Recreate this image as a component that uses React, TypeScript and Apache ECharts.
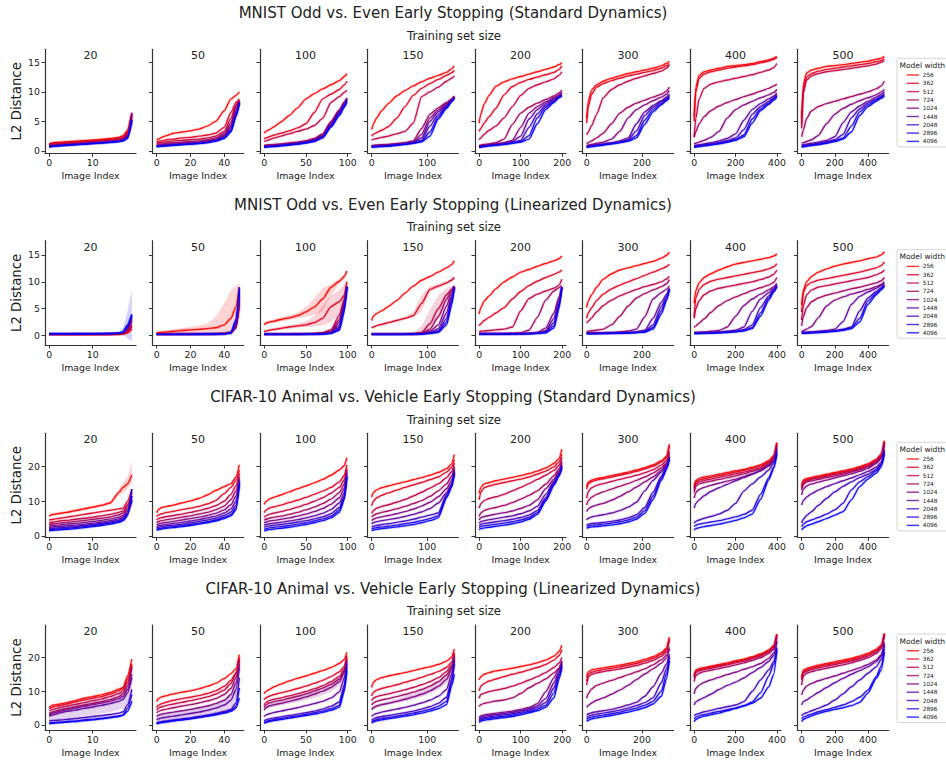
import React, { useEffect, useRef } from 'react';
import * as echarts from 'echarts';

// ---------- labels ----------
const ROW_TITLES = [
  'MNIST Odd vs. Even Early Stopping (Standard Dynamics)',
  'MNIST Odd vs. Even Early Stopping (Linearized Dynamics)',
  'CIFAR-10 Animal vs. Vehicle Early Stopping (Standard Dynamics)',
  'CIFAR-10 Animal vs. Vehicle Early Stopping (Linearized Dynamics)',
];
const SUBTITLE = 'Training set size';
const X_LABEL = 'Image Index';
const Y_LABEL = 'L2 Distance';
const LEGEND_TITLE = 'Model width';
const WIDTHS = ['256', '362', '512', '724', '1024', '1448', '2048', '2896', '4096'];
const SIZES = [20, 50, 100, 150, 200, 300, 400, 500];
const X_TICKS = [[0, 10], [0, 20, 40], [0, 50, 100], [0, 100], [0, 100, 200], [0, 200], [0, 200, 400], [0, 200, 400]];
const Y_TICKS_MNIST = [0, 5, 10, 15];
const Y_TICKS_CIFAR = [0, 10, 20];

// ---------- sampled image indices per training-set size ----------
const X20 = [0, 1, 2, 3, 4, 6, 8, 10, 12, 14, 16, 17, 18, 19];
const X50 = [0, 1, 3, 6, 10, 15, 20, 25, 30, 35, 40, 44, 47, 49];
const X100 = [0, 2, 6, 12, 20, 30, 40, 50, 60, 70, 80, 90, 96, 99];
const X150 = [0, 3, 9, 18, 30, 45, 60, 75, 90, 105, 120, 135, 144, 149];
const X200 = [0, 4, 12, 24, 40, 60, 80, 100, 120, 140, 160, 180, 192, 199];
const X300 = [0, 6, 18, 36, 60, 90, 120, 150, 180, 210, 240, 270, 288, 299];
const X400 = [0, 8, 24, 48, 80, 120, 160, 200, 240, 280, 320, 360, 384, 399];
const X500 = [0, 10, 30, 60, 100, 150, 200, 250, 300, 350, 400, 450, 480, 499];
const XS = [X20, X50, X100, X150, X200, X300, X400, X500];

// ---------- MNIST standard ----------
const MS20 = [
  [1.2, 1.4, 1.45, 1.5, 1.55, 1.65, 1.75, 1.85, 1.95, 2.1, 2.3, 2.6, 3.5, 6.3],
  [1.1, 1.3, 1.35, 1.4, 1.45, 1.55, 1.65, 1.75, 1.85, 1.95, 2.15, 2.4, 3.2, 6.0],
  [1.0, 1.15, 1.2, 1.25, 1.3, 1.4, 1.5, 1.6, 1.7, 1.8, 2.0, 2.2, 3.0, 6.5],
  [0.9, 1.0, 1.05, 1.1, 1.15, 1.25, 1.35, 1.45, 1.55, 1.65, 1.85, 2.05, 2.8, 6.4],
  [0.85, 0.95, 1.0, 1.05, 1.1, 1.2, 1.3, 1.4, 1.5, 1.6, 1.75, 1.95, 2.6, 6.0],
  [0.8, 0.9, 0.95, 1.0, 1.05, 1.15, 1.25, 1.35, 1.45, 1.55, 1.7, 1.85, 2.4, 5.6],
  [0.75, 0.85, 0.9, 0.95, 1.0, 1.1, 1.2, 1.3, 1.4, 1.5, 1.65, 1.8, 2.3, 5.2],
  [0.72, 0.82, 0.87, 0.92, 0.97, 1.07, 1.17, 1.27, 1.37, 1.47, 1.6, 1.75, 2.2, 5.0],
  [0.7, 0.8, 0.85, 0.9, 0.95, 1.05, 1.15, 1.25, 1.35, 1.45, 1.58, 1.72, 2.1, 5.2],
];
const MS50 = [
  [1.8, 2.0, 2.3, 2.6, 3.0, 3.2, 3.4, 3.7, 4.2, 5.0, 6.8, 8.8, 9.4, 10.0],
  [1.5, 1.6, 1.7, 1.9, 2.0, 2.2, 2.3, 2.5, 2.7, 3.0, 4.0, 6.5, 8.2, 8.8],
  [1.3, 1.35, 1.45, 1.55, 1.7, 1.8, 1.9, 2.0, 2.2, 2.5, 3.3, 5.5, 7.8, 8.6],
  [1.1, 1.15, 1.2, 1.3, 1.4, 1.5, 1.6, 1.7, 1.9, 2.2, 3.0, 4.8, 7.5, 8.5],
  [0.9, 0.95, 1.0, 1.1, 1.2, 1.3, 1.4, 1.5, 1.7, 2.0, 2.7, 4.3, 7.0, 8.4],
  [0.85, 0.9, 0.95, 1.0, 1.1, 1.2, 1.3, 1.4, 1.55, 1.85, 2.5, 4.0, 6.5, 8.3],
  [0.8, 0.85, 0.9, 0.95, 1.05, 1.15, 1.25, 1.35, 1.5, 1.75, 2.3, 3.6, 6.2, 8.2],
  [0.75, 0.8, 0.85, 0.9, 1.0, 1.1, 1.2, 1.3, 1.45, 1.7, 2.2, 3.4, 6.0, 8.1],
  [0.7, 0.75, 0.8, 0.85, 0.95, 1.05, 1.15, 1.25, 1.4, 1.65, 2.1, 3.2, 5.8, 8.0],
];
const MS100 = [
  [3.0, 3.3, 3.6, 4.1, 4.9, 6.0, 7.3, 8.8, 9.7, 10.5, 11.2, 11.9, 12.6, 13.1],
  [2.0, 2.2, 2.4, 2.7, 3.0, 3.4, 3.9, 4.6, 6.5, 8.8, 9.6, 10.4, 11.2, 11.8],
  [1.6, 1.7, 1.9, 2.2, 2.5, 2.9, 3.3, 3.7, 4.3, 5.5, 8.2, 9.2, 9.9, 10.3],
  [0.9, 1.0, 1.05, 1.1, 1.2, 1.35, 1.5, 1.75, 2.1, 2.9, 5.0, 7.0, 8.3, 9.0],
  [0.8, 0.85, 0.9, 0.95, 1.05, 1.2, 1.35, 1.6, 1.95, 2.7, 4.8, 6.8, 8.1, 8.9],
  [0.75, 0.8, 0.85, 0.9, 1.0, 1.15, 1.3, 1.5, 1.85, 2.5, 4.6, 6.6, 8.0, 8.8],
  [0.7, 0.75, 0.8, 0.85, 0.95, 1.1, 1.25, 1.45, 1.75, 2.4, 4.4, 6.4, 7.8, 8.7],
  [0.65, 0.7, 0.75, 0.8, 0.9, 1.05, 1.2, 1.4, 1.7, 2.3, 4.2, 6.2, 7.6, 8.5],
  [0.6, 0.65, 0.7, 0.75, 0.85, 1.0, 1.15, 1.35, 1.6, 2.2, 4.0, 6.0, 7.4, 8.3],
];
const MS150 = [
  [3.6, 4.5, 5.6, 6.8, 8.0, 9.3, 10.2, 11.0, 11.7, 12.3, 12.8, 13.3, 13.9, 14.4],
  [2.5, 2.8, 3.1, 3.5, 4.1, 5.5, 7.5, 9.4, 10.6, 11.4, 12.1, 12.8, 13.2, 13.6],
  [1.8, 1.95, 2.1, 2.3, 2.5, 2.9, 3.3, 4.7, 9.2, 10.0, 10.8, 11.8, 12.3, 12.7],
  [0.9, 0.95, 1.0, 1.05, 1.1, 1.25, 1.4, 1.7, 3.8, 6.2, 7.3, 8.2, 8.8, 9.3],
  [0.8, 0.85, 0.9, 0.95, 1.0, 1.15, 1.3, 1.55, 2.8, 5.6, 6.9, 8.0, 8.7, 9.2],
  [0.75, 0.8, 0.85, 0.9, 0.95, 1.1, 1.25, 1.45, 2.2, 5.0, 6.6, 7.8, 8.6, 9.1],
  [0.7, 0.75, 0.8, 0.85, 0.9, 1.05, 1.2, 1.4, 1.8, 4.2, 6.2, 7.6, 8.5, 9.0],
  [0.65, 0.7, 0.75, 0.8, 0.85, 1.0, 1.15, 1.35, 1.65, 3.2, 5.8, 7.4, 8.4, 9.0],
  [0.6, 0.65, 0.7, 0.75, 0.8, 0.95, 1.1, 1.3, 1.55, 2.5, 5.4, 7.2, 8.3, 9.0],
];
const MS200 = [
  [4.7, 6.2, 7.9, 9.4, 10.9, 11.7, 12.2, 12.6, 13.0, 13.4, 13.8, 14.2, 14.6, 14.9],
  [3.3, 3.8, 4.7, 5.8, 7.2, 9.5, 10.9, 11.6, 12.1, 12.5, 12.9, 13.3, 13.8, 14.4],
  [1.9, 2.2, 2.8, 3.5, 4.2, 5.6, 7.5, 9.4, 10.6, 11.2, 11.7, 12.2, 12.8, 13.4],
  [0.9, 1.0, 1.1, 1.2, 1.4, 2.0, 4.5, 6.4, 7.4, 8.1, 8.7, 9.3, 9.8, 10.3],
  [0.8, 0.85, 0.95, 1.05, 1.2, 1.4, 1.8, 4.0, 6.4, 7.5, 8.3, 9.0, 9.5, 9.9],
  [0.75, 0.8, 0.9, 1.0, 1.1, 1.3, 1.6, 2.5, 5.4, 7.0, 8.0, 8.8, 9.3, 9.7],
  [0.7, 0.75, 0.85, 0.95, 1.05, 1.2, 1.45, 1.8, 4.0, 6.3, 7.7, 8.6, 9.2, 9.5],
  [0.65, 0.7, 0.8, 0.9, 1.0, 1.15, 1.35, 1.6, 2.6, 5.6, 7.4, 8.4, 9.1, 9.4],
  [0.6, 0.65, 0.75, 0.85, 0.95, 1.1, 1.3, 1.5, 2.0, 4.6, 7.0, 8.2, 9.0, 9.3],
];
const MS300 = [
  [5.5, 8.5, 10.3, 11.2, 11.8, 12.3, 12.7, 13.1, 13.4, 13.7, 14.0, 14.4, 14.8, 15.2],
  [4.7, 7.5, 9.6, 10.8, 11.4, 11.9, 12.3, 12.7, 13.0, 13.3, 13.6, 14.0, 14.4, 14.8],
  [2.7, 3.2, 4.3, 6.2, 9.0, 10.4, 11.2, 11.8, 12.3, 12.7, 13.1, 13.5, 14.0, 14.5],
  [1.2, 1.4, 1.7, 2.2, 3.0, 4.6, 6.4, 7.4, 8.1, 8.6, 9.1, 9.6, 10.1, 10.8],
  [0.9, 1.0, 1.1, 1.3, 1.5, 2.0, 3.3, 5.6, 7.0, 7.8, 8.5, 9.1, 9.6, 10.2],
  [0.8, 0.85, 0.95, 1.05, 1.2, 1.4, 1.7, 2.2, 4.6, 6.6, 7.7, 8.5, 9.1, 9.6],
  [0.7, 0.75, 0.85, 0.95, 1.1, 1.3, 1.5, 1.9, 3.4, 6.0, 7.4, 8.3, 8.9, 9.4],
  [0.65, 0.7, 0.8, 0.9, 1.05, 1.25, 1.45, 1.75, 2.6, 5.2, 7.0, 8.0, 8.7, 9.2],
  [0.6, 0.65, 0.75, 0.85, 1.0, 1.2, 1.4, 1.65, 2.2, 4.5, 6.6, 7.8, 8.5, 9.0],
];
const MS400 = [
  [5.8, 10.8, 12.8, 13.4, 13.7, 14.0, 14.3, 14.45, 14.6, 14.8, 15.1, 15.4, 15.7, 16.0],
  [5.0, 10.0, 12.3, 13.0, 13.4, 13.7, 14.0, 14.2, 14.4, 14.6, 14.9, 15.2, 15.5, 15.8],
  [2.4, 5.5, 8.8, 10.6, 11.3, 11.7, 12.0, 12.3, 12.6, 12.9, 13.3, 13.7, 14.1, 14.8],
  [2.3, 3.2, 4.6, 5.8, 6.8, 7.6, 8.2, 8.7, 9.2, 9.6, 10.1, 10.6, 11.0, 11.3],
  [1.2, 1.3, 1.5, 1.8, 2.3, 3.3, 5.6, 7.0, 7.8, 8.4, 9.0, 9.5, 9.9, 10.4],
  [0.9, 0.95, 1.05, 1.2, 1.4, 1.7, 2.1, 2.9, 5.2, 7.0, 8.0, 8.8, 9.3, 9.8],
  [0.8, 0.85, 0.95, 1.05, 1.2, 1.45, 1.75, 2.2, 3.6, 6.2, 7.5, 8.4, 9.0, 9.5],
  [0.7, 0.75, 0.85, 0.95, 1.1, 1.3, 1.6, 1.95, 2.7, 5.4, 7.1, 8.1, 8.8, 9.3],
  [0.6, 0.65, 0.75, 0.85, 1.0, 1.2, 1.45, 1.8, 2.4, 4.7, 6.8, 7.9, 8.6, 9.1],
];
const MS500 = [
  [5.5, 11.3, 13.2, 13.7, 14.0, 14.3, 14.45, 14.6, 14.8, 15.0, 15.2, 15.5, 15.7, 16.0],
  [4.5, 10.5, 12.5, 13.1, 13.5, 13.8, 14.0, 14.2, 14.4, 14.6, 14.8, 15.1, 15.3, 15.6],
  [3.8, 9.8, 12.0, 12.7, 13.1, 13.4, 13.6, 13.8, 14.0, 14.2, 14.4, 14.7, 15.0, 15.3],
  [2.4, 3.5, 5.5, 6.8, 7.5, 8.0, 8.4, 8.8, 9.2, 9.6, 10.0, 10.5, 11.0, 11.8],
  [1.3, 1.4, 1.6, 1.9, 2.6, 4.6, 6.2, 7.2, 7.9, 8.5, 9.0, 9.5, 10.0, 10.4],
  [1.0, 1.05, 1.15, 1.3, 1.5, 1.8, 2.4, 4.8, 6.6, 7.6, 8.4, 9.1, 9.6, 10.0],
  [0.85, 0.9, 1.0, 1.1, 1.3, 1.55, 1.9, 2.8, 5.6, 7.1, 8.1, 8.8, 9.3, 9.7],
  [0.75, 0.8, 0.9, 1.0, 1.15, 1.4, 1.7, 2.2, 4.2, 6.6, 7.8, 8.6, 9.1, 9.5],
  [0.65, 0.7, 0.8, 0.9, 1.05, 1.3, 1.6, 2.0, 3.2, 6.0, 7.5, 8.4, 8.9, 9.3],
];

// ---------- MNIST linearized ----------
const ML20 = [
  [0.2, 0.2, 0.2, 0.2, 0.2, 0.2, 0.2, 0.2, 0.2, 0.21, 0.22, 0.3, 0.5, 1.2],
  [0.22, 0.22, 0.22, 0.22, 0.22, 0.22, 0.22, 0.23, 0.23, 0.24, 0.26, 0.35, 0.6, 1.6],
  [0.24, 0.24, 0.24, 0.24, 0.24, 0.24, 0.25, 0.25, 0.26, 0.27, 0.29, 0.4, 0.8, 2.0],
  [0.26, 0.26, 0.26, 0.26, 0.26, 0.27, 0.27, 0.28, 0.29, 0.3, 0.32, 0.45, 1.0, 2.6],
  [0.28, 0.28, 0.28, 0.28, 0.28, 0.29, 0.29, 0.3, 0.31, 0.32, 0.35, 0.5, 1.2, 3.0],
  [0.3, 0.3, 0.3, 0.3, 0.3, 0.31, 0.31, 0.32, 0.33, 0.34, 0.38, 0.55, 1.4, 3.3],
  [0.32, 0.32, 0.32, 0.32, 0.32, 0.33, 0.33, 0.34, 0.35, 0.36, 0.4, 0.6, 1.6, 3.6],
  [0.33, 0.33, 0.33, 0.33, 0.33, 0.34, 0.34, 0.35, 0.36, 0.38, 0.42, 0.65, 1.8, 3.8],
  [0.34, 0.34, 0.34, 0.34, 0.34, 0.35, 0.35, 0.36, 0.37, 0.39, 0.44, 0.7, 2.0, 4.0],
];
const ML50 = [
  [0.5, 0.55, 0.6, 0.7, 0.8, 0.95, 1.05, 1.15, 1.3, 1.45, 2.0, 3.2, 5.4, 9.0],
  [0.3, 0.3, 0.3, 0.3, 0.3, 0.3, 0.3, 0.32, 0.34, 0.36, 0.4, 0.7, 1.6, 5.5],
  [0.28, 0.28, 0.28, 0.28, 0.28, 0.29, 0.29, 0.3, 0.32, 0.34, 0.38, 0.65, 1.5, 6.0],
  [0.27, 0.27, 0.27, 0.27, 0.27, 0.28, 0.28, 0.29, 0.31, 0.33, 0.37, 0.6, 1.4, 6.5],
  [0.26, 0.26, 0.26, 0.26, 0.26, 0.27, 0.27, 0.28, 0.3, 0.32, 0.36, 0.55, 1.5, 7.0],
  [0.25, 0.25, 0.25, 0.25, 0.25, 0.26, 0.26, 0.27, 0.29, 0.31, 0.35, 0.5, 1.8, 7.5],
  [0.24, 0.24, 0.24, 0.24, 0.24, 0.25, 0.25, 0.26, 0.28, 0.3, 0.34, 0.5, 2.2, 8.0],
  [0.23, 0.23, 0.23, 0.23, 0.23, 0.24, 0.24, 0.25, 0.27, 0.29, 0.33, 0.5, 2.6, 8.5],
  [0.22, 0.22, 0.22, 0.22, 0.22, 0.23, 0.23, 0.24, 0.26, 0.28, 0.32, 0.5, 3.0, 9.0],
];
const ML100 = [
  [2.0, 2.3, 2.5, 2.7, 3.0, 3.3, 3.7, 4.4, 5.3, 6.8, 9.0, 10.1, 11.0, 12.0],
  [0.75, 0.85, 1.0, 1.15, 1.35, 1.6, 1.8, 2.0, 2.4, 3.2, 5.4, 6.3, 7.5, 10.0],
  [0.3, 0.3, 0.3, 0.3, 0.3, 0.3, 0.32, 0.35, 0.4, 0.55, 1.1, 3.8, 6.8, 9.2],
  [0.28, 0.28, 0.28, 0.28, 0.28, 0.28, 0.3, 0.32, 0.36, 0.45, 0.8, 3.0, 6.5, 9.2],
  [0.26, 0.26, 0.26, 0.26, 0.26, 0.26, 0.28, 0.3, 0.33, 0.4, 0.7, 2.4, 6.2, 9.1],
  [0.25, 0.25, 0.25, 0.25, 0.25, 0.25, 0.26, 0.28, 0.3, 0.35, 0.6, 1.9, 5.8, 9.0],
  [0.24, 0.24, 0.24, 0.24, 0.24, 0.24, 0.25, 0.27, 0.29, 0.33, 0.5, 1.5, 5.4, 9.0],
  [0.23, 0.23, 0.23, 0.23, 0.23, 0.23, 0.24, 0.26, 0.28, 0.3, 0.45, 1.2, 5.0, 9.0],
  [0.22, 0.22, 0.22, 0.22, 0.22, 0.22, 0.23, 0.25, 0.27, 0.3, 0.4, 1.0, 4.5, 9.0],
];
const ML150 = [
  [2.8, 3.6, 4.1, 4.6, 5.4, 6.5, 7.9, 9.2, 10.3, 11.0, 11.8, 12.6, 13.2, 13.9],
  [1.4, 1.6, 1.85, 2.1, 2.4, 2.8, 3.2, 3.7, 6.0, 8.6, 9.2, 9.8, 10.3, 10.8],
  [0.3, 0.3, 0.3, 0.3, 0.3, 0.3, 0.3, 0.35, 0.6, 2.2, 5.0, 7.6, 8.6, 9.2],
  [0.28, 0.28, 0.28, 0.28, 0.28, 0.28, 0.3, 0.33, 0.45, 1.2, 3.5, 6.8, 8.4, 9.2],
  [0.26, 0.26, 0.26, 0.26, 0.26, 0.26, 0.28, 0.3, 0.4, 0.8, 2.0, 5.5, 8.0, 9.1],
  [0.25, 0.25, 0.25, 0.25, 0.25, 0.25, 0.27, 0.29, 0.35, 0.6, 1.3, 4.2, 7.4, 9.0],
  [0.24, 0.24, 0.24, 0.24, 0.24, 0.24, 0.26, 0.28, 0.33, 0.5, 0.9, 3.2, 6.8, 9.0],
  [0.23, 0.23, 0.23, 0.23, 0.23, 0.23, 0.25, 0.27, 0.31, 0.45, 0.7, 2.5, 6.2, 9.0],
  [0.22, 0.22, 0.22, 0.22, 0.22, 0.22, 0.24, 0.26, 0.3, 0.4, 0.6, 2.0, 5.6, 9.0],
];
const ML200 = [
  [4.0, 5.2, 6.4, 7.4, 8.7, 10.0, 10.9, 11.8, 12.3, 12.9, 13.4, 13.9, 14.3, 14.8],
  [1.8, 2.2, 2.8, 3.4, 4.2, 5.2, 6.8, 8.2, 9.3, 10.1, 10.8, 11.4, 11.8, 12.2],
  [0.75, 0.8, 0.85, 0.95, 1.05, 1.2, 1.6, 4.6, 6.9, 7.7, 8.3, 8.8, 9.4, 10.5],
  [0.4, 0.4, 0.4, 0.4, 0.4, 0.42, 0.45, 0.55, 1.0, 3.4, 6.6, 8.3, 8.9, 9.3],
  [0.35, 0.35, 0.35, 0.35, 0.35, 0.35, 0.36, 0.38, 0.42, 0.6, 1.4, 4.2, 7.2, 9.0],
  [0.33, 0.33, 0.33, 0.33, 0.33, 0.33, 0.34, 0.36, 0.4, 0.5, 0.9, 3.2, 6.6, 9.0],
  [0.31, 0.31, 0.31, 0.31, 0.31, 0.31, 0.32, 0.34, 0.38, 0.45, 0.7, 2.4, 6.0, 9.0],
  [0.3, 0.3, 0.3, 0.3, 0.3, 0.3, 0.31, 0.33, 0.36, 0.42, 0.6, 1.8, 5.5, 9.0],
  [0.28, 0.28, 0.28, 0.28, 0.28, 0.28, 0.3, 0.32, 0.35, 0.4, 0.5, 1.4, 5.0, 9.0],
];
const ML300 = [
  [5.2, 6.5, 7.6, 9.0, 10.5, 11.5, 12.2, 12.6, 13.0, 13.4, 13.8, 14.4, 14.9, 15.5],
  [3.2, 4.2, 5.2, 6.5, 7.7, 8.7, 9.4, 10.0, 10.6, 11.2, 11.8, 12.4, 12.8, 13.3],
  [2.3, 2.7, 3.3, 4.4, 5.6, 6.6, 7.4, 8.0, 8.6, 9.1, 9.5, 10.0, 10.5, 11.0],
  [0.75, 0.8, 0.9, 1.0, 1.2, 2.0, 3.6, 5.5, 7.0, 7.8, 8.5, 9.1, 9.6, 10.4],
  [0.5, 0.5, 0.5, 0.52, 0.55, 0.6, 0.7, 0.85, 1.2, 3.5, 6.8, 8.0, 8.6, 9.2],
  [0.45, 0.45, 0.45, 0.46, 0.48, 0.5, 0.55, 0.6, 0.7, 1.0, 3.2, 6.2, 7.6, 8.8],
  [0.4, 0.4, 0.4, 0.41, 0.43, 0.45, 0.5, 0.55, 0.62, 0.8, 2.0, 5.4, 7.2, 8.7],
  [0.37, 0.37, 0.37, 0.38, 0.4, 0.42, 0.46, 0.5, 0.57, 0.7, 1.5, 4.6, 6.8, 8.6],
  [0.35, 0.35, 0.35, 0.36, 0.38, 0.4, 0.44, 0.48, 0.54, 0.65, 1.2, 4.0, 6.4, 8.5],
];
const ML400 = [
  [6.0, 8.4, 9.8, 10.8, 11.5, 12.2, 12.8, 13.3, 13.6, 13.9, 14.2, 14.5, 14.8, 15.2],
  [3.5, 7.0, 8.6, 9.5, 10.1, 10.5, 10.8, 11.1, 11.4, 11.7, 12.0, 12.4, 12.8, 13.4],
  [3.2, 5.0, 6.5, 7.6, 8.3, 8.8, 9.1, 9.4, 9.7, 10.0, 10.4, 10.9, 11.4, 12.2],
  [1.5, 1.8, 2.3, 3.1, 4.3, 5.6, 6.5, 7.2, 7.8, 8.4, 8.9, 9.4, 9.9, 10.8],
  [0.6, 0.62, 0.65, 0.7, 0.8, 0.95, 1.6, 3.6, 5.6, 6.8, 7.7, 8.5, 9.1, 9.7],
  [0.5, 0.5, 0.52, 0.55, 0.6, 0.68, 0.8, 1.0, 1.6, 4.5, 6.8, 8.0, 8.8, 9.5],
  [0.45, 0.45, 0.47, 0.5, 0.55, 0.6, 0.7, 0.85, 1.1, 2.0, 5.2, 7.4, 8.5, 9.3],
  [0.4, 0.4, 0.42, 0.45, 0.5, 0.55, 0.63, 0.75, 0.95, 1.5, 4.2, 7.0, 8.3, 9.2],
  [0.37, 0.37, 0.39, 0.42, 0.46, 0.5, 0.58, 0.7, 0.88, 1.3, 3.6, 6.6, 8.1, 9.1],
];
const ML500 = [
  [5.7, 8.5, 10.0, 11.0, 11.8, 12.4, 12.9, 13.3, 13.6, 13.9, 14.3, 14.6, 15.0, 15.6],
  [4.4, 8.0, 9.3, 9.9, 10.3, 10.6, 10.9, 11.2, 11.5, 11.8, 12.2, 12.6, 13.0, 13.7],
  [2.9, 5.5, 7.6, 8.5, 9.0, 9.3, 9.6, 9.9, 10.2, 10.5, 10.8, 11.3, 11.7, 12.2],
  [1.8, 3.5, 5.2, 6.3, 7.0, 7.5, 7.9, 8.3, 8.7, 9.0, 9.4, 9.8, 10.2, 10.8],
  [0.75, 0.9, 1.2, 1.7, 3.3, 5.5, 6.6, 7.2, 7.7, 8.1, 8.6, 9.1, 9.5, 10.0],
  [0.6, 0.62, 0.65, 0.7, 0.8, 0.95, 1.2, 2.6, 5.8, 7.3, 8.1, 8.8, 9.3, 9.7],
  [0.5, 0.52, 0.55, 0.6, 0.68, 0.8, 0.95, 1.2, 1.6, 4.6, 7.0, 8.2, 8.9, 9.5],
  [0.45, 0.47, 0.5, 0.55, 0.62, 0.72, 0.85, 1.05, 1.4, 3.2, 6.4, 7.9, 8.7, 9.3],
  [0.4, 0.42, 0.45, 0.5, 0.57, 0.67, 0.8, 0.98, 1.3, 2.5, 5.8, 7.6, 8.5, 9.2],
];

// ---------- CIFAR-10 standard ----------
const CS20 = [
  [5.8, 6.2, 6.4, 6.6, 6.8, 7.3, 7.8, 8.3, 8.8, 9.5, 12.5, 14.0, 15.0, 17.6],
  [4.6, 4.8, 5.0, 5.2, 5.4, 5.8, 6.2, 6.6, 7.0, 7.4, 7.8, 8.0, 10.0, 13.5],
  [3.8, 4.0, 4.2, 4.4, 4.5, 4.8, 5.1, 5.4, 5.8, 6.2, 6.8, 7.2, 9.0, 12.5],
  [3.3, 3.5, 3.6, 3.8, 3.9, 4.2, 4.5, 4.8, 5.1, 5.5, 6.1, 6.6, 8.3, 11.5],
  [2.9, 3.0, 3.1, 3.3, 3.4, 3.6, 3.9, 4.2, 4.5, 4.9, 5.4, 5.9, 7.6, 10.5],
  [2.5, 2.6, 2.7, 2.8, 2.9, 3.1, 3.4, 3.7, 4.0, 4.4, 4.9, 5.4, 7.0, 10.5],
  [2.1, 2.2, 2.3, 2.4, 2.5, 2.7, 3.0, 3.3, 3.6, 4.0, 4.5, 5.0, 6.5, 10.0],
  [1.8, 1.9, 2.0, 2.1, 2.2, 2.4, 2.7, 3.0, 3.3, 3.7, 4.2, 4.7, 6.2, 11.5],
  [1.5, 1.6, 1.7, 1.8, 1.9, 2.1, 2.4, 2.7, 3.0, 3.4, 3.9, 4.4, 5.8, 13.5],
];
const CS50 = [
  [6.7, 7.6, 8.2, 8.5, 8.9, 9.5, 10.1, 10.8, 11.8, 13.1, 14.2, 15.1, 17.0, 20.5],
  [5.6, 6.0, 6.4, 6.8, 7.1, 7.6, 8.0, 8.5, 9.2, 10.2, 12.2, 14.0, 16.0, 19.0],
  [4.6, 5.0, 5.3, 5.6, 5.9, 6.3, 6.8, 7.3, 7.9, 8.7, 10.0, 12.0, 14.5, 18.0],
  [3.8, 4.1, 4.4, 4.7, 5.0, 5.4, 5.8, 6.3, 6.8, 7.5, 8.6, 10.5, 13.0, 17.0],
  [3.2, 3.4, 3.7, 3.9, 4.2, 4.6, 5.0, 5.4, 5.9, 6.5, 7.5, 9.0, 11.5, 16.5],
  [2.7, 2.9, 3.1, 3.3, 3.6, 3.9, 4.3, 4.7, 5.2, 5.7, 6.6, 7.8, 10.0, 16.0],
  [2.3, 2.5, 2.7, 2.9, 3.1, 3.4, 3.8, 4.2, 4.6, 5.1, 5.9, 6.9, 8.8, 15.5],
  [1.9, 2.1, 2.3, 2.5, 2.7, 3.0, 3.3, 3.7, 4.1, 4.6, 5.3, 6.2, 8.0, 15.0],
  [1.6, 1.8, 2.0, 2.2, 2.4, 2.7, 3.0, 3.4, 3.8, 4.3, 5.0, 5.8, 7.5, 15.0],
];
const CS100 = [
  [9.1, 9.9, 10.6, 11.2, 11.8, 12.7, 13.6, 14.4, 15.3, 16.3, 17.5, 19.0, 20.3, 22.6],
  [6.7, 7.4, 8.0, 8.4, 8.9, 9.6, 10.3, 11.1, 12.0, 12.9, 14.0, 15.6, 17.5, 20.5],
  [5.4, 5.8, 6.2, 6.6, 7.0, 7.6, 8.3, 9.1, 10.0, 11.0, 12.3, 14.0, 16.2, 19.5],
  [4.5, 4.8, 5.1, 5.4, 5.7, 6.2, 6.8, 7.5, 8.3, 9.3, 10.6, 12.5, 15.0, 19.0],
  [3.7, 4.0, 4.3, 4.5, 4.8, 5.2, 5.7, 6.3, 7.0, 7.9, 9.1, 11.0, 13.8, 18.5],
  [3.1, 3.3, 3.5, 3.7, 3.9, 4.3, 4.7, 5.2, 5.8, 6.5, 7.6, 9.5, 12.5, 18.0],
  [2.5, 2.7, 2.9, 3.1, 3.3, 3.6, 4.0, 4.4, 4.9, 5.5, 6.4, 8.2, 11.5, 17.5],
  [1.9, 2.1, 2.3, 2.5, 2.7, 3.0, 3.4, 3.8, 4.3, 4.9, 5.7, 7.4, 11.0, 17.0],
  [1.4, 1.6, 1.8, 2.0, 2.2, 2.5, 2.9, 3.3, 3.8, 4.4, 5.2, 6.8, 10.5, 17.0],
];
const CS150 = [
  [11.2, 12.5, 13.3, 13.9, 14.4, 15.0, 15.6, 16.2, 16.8, 17.5, 18.3, 19.4, 20.8, 23.5],
  [8.7, 10.0, 11.0, 11.7, 12.4, 13.2, 14.0, 14.7, 15.4, 16.2, 17.0, 18.4, 19.8, 22.0],
  [6.5, 7.3, 8.0, 8.5, 9.0, 9.7, 10.5, 11.5, 12.6, 13.8, 15.0, 16.8, 18.5, 21.0],
  [5.4, 5.9, 6.4, 6.8, 7.2, 7.8, 8.5, 9.3, 10.2, 11.4, 13.0, 15.0, 17.2, 20.0],
  [4.4, 4.8, 5.2, 5.5, 5.9, 6.4, 7.0, 7.7, 8.6, 9.7, 11.3, 13.6, 16.0, 19.5],
  [3.5, 3.8, 4.1, 4.4, 4.7, 5.1, 5.6, 6.2, 6.9, 7.9, 9.5, 12.5, 15.0, 19.0],
  [2.6, 2.8, 3.0, 3.3, 3.5, 3.9, 4.3, 4.8, 5.4, 6.0, 6.6, 12.0, 14.5, 18.5],
  [2.0, 2.2, 2.4, 2.6, 2.8, 3.1, 3.5, 3.9, 4.4, 5.0, 5.8, 11.5, 14.2, 18.0],
  [1.5, 1.7, 1.9, 2.1, 2.3, 2.6, 2.9, 3.3, 3.8, 4.4, 5.2, 11.0, 14.0, 18.0],
];
const CS200 = [
  [12.3, 14.0, 15.0, 15.4, 15.9, 16.4, 16.9, 17.4, 18.0, 18.7, 19.6, 20.9, 22.3, 25.0],
  [10.4, 12.6, 13.9, 14.4, 14.9, 15.4, 15.9, 16.4, 17.0, 17.8, 18.7, 19.9, 21.3, 23.5],
  [8.0, 9.3, 10.2, 10.8, 11.3, 12.0, 13.0, 14.0, 15.1, 16.3, 17.5, 18.9, 20.3, 22.5],
  [5.6, 6.6, 7.3, 7.8, 8.2, 8.8, 9.6, 10.6, 11.7, 13.0, 14.9, 17.4, 19.3, 21.5],
  [4.6, 5.2, 5.6, 5.9, 6.3, 6.7, 7.2, 7.9, 8.8, 10.4, 13.6, 16.4, 18.6, 21.0],
  [3.7, 4.1, 4.4, 4.7, 5.0, 5.4, 5.8, 6.4, 7.2, 8.5, 12.0, 15.8, 18.2, 20.5],
  [3.0, 3.3, 3.6, 3.8, 4.1, 4.4, 4.8, 5.3, 6.0, 7.3, 11.0, 15.4, 17.8, 20.0],
  [2.4, 2.7, 2.9, 3.1, 3.4, 3.7, 4.1, 4.6, 5.3, 6.7, 10.5, 15.0, 17.5, 20.0],
  [1.8, 2.1, 2.3, 2.5, 2.8, 3.1, 3.5, 4.0, 4.8, 6.2, 10.0, 14.6, 17.2, 19.5],
];
const CS300 = [
  [14.2, 15.5, 16.1, 16.5, 16.9, 17.4, 17.9, 18.4, 19.0, 19.7, 20.5, 21.7, 22.9, 26.5],
  [13.5, 15.0, 15.7, 16.1, 16.5, 17.0, 17.5, 18.0, 18.6, 19.3, 20.1, 21.3, 22.5, 26.0],
  [10.9, 12.8, 13.9, 14.6, 15.1, 15.7, 16.3, 16.9, 17.5, 18.2, 19.1, 20.4, 21.7, 24.5],
  [8.9, 10.2, 11.2, 12.0, 12.7, 13.5, 14.3, 15.1, 16.0, 17.0, 18.1, 19.6, 21.0, 23.8],
  [7.0, 7.8, 8.4, 8.9, 9.4, 10.3, 11.4, 12.7, 14.1, 15.6, 17.0, 18.9, 20.6, 23.2],
  [4.6, 5.1, 5.5, 5.8, 6.1, 6.6, 7.3, 8.3, 9.7, 13.0, 16.0, 18.4, 20.2, 22.8],
  [3.2, 3.4, 3.6, 3.7, 3.9, 4.2, 4.6, 5.2, 6.1, 8.2, 12.6, 17.2, 19.8, 22.5],
  [2.7, 2.9, 3.1, 3.2, 3.4, 3.7, 4.1, 4.6, 5.4, 7.3, 11.5, 16.6, 19.4, 22.2],
  [2.2, 2.4, 2.6, 2.7, 2.9, 3.2, 3.5, 4.0, 4.8, 6.5, 10.5, 16.0, 19.0, 22.0],
];
const CS400 = [
  [14.4, 16.0, 16.6, 17.0, 17.3, 17.8, 18.3, 18.8, 19.2, 19.8, 20.5, 21.7, 23.2, 27.0],
  [13.8, 15.5, 16.1, 16.5, 16.9, 17.4, 17.9, 18.4, 18.9, 19.5, 20.2, 21.4, 22.9, 26.8],
  [13.2, 14.9, 15.6, 16.0, 16.4, 16.9, 17.4, 17.9, 18.4, 19.0, 19.7, 21.0, 22.5, 26.5],
  [12.5, 14.3, 15.0, 15.4, 15.8, 16.3, 16.8, 17.3, 17.9, 18.6, 19.3, 20.6, 22.2, 26.0],
  [10.9, 12.5, 13.4, 14.0, 14.6, 15.2, 15.8, 16.4, 17.1, 17.9, 18.8, 20.2, 21.8, 25.5],
  [8.0, 9.4, 10.4, 11.6, 12.8, 13.9, 14.9, 15.9, 16.8, 17.8, 18.8, 20.2, 21.6, 25.0],
  [3.7, 4.2, 4.6, 5.1, 5.6, 6.3, 7.4, 9.4, 13.0, 15.0, 17.0, 19.0, 21.0, 24.5],
  [2.7, 3.1, 3.4, 3.7, 4.0, 4.4, 4.9, 5.5, 6.2, 7.4, 12.0, 16.8, 19.8, 24.0],
  [1.7, 2.1, 2.4, 2.7, 3.0, 3.4, 3.9, 4.5, 5.2, 6.3, 10.5, 16.2, 19.5, 23.5],
];
const CS500 = [
  [14.7, 16.1, 16.6, 16.9, 17.3, 17.8, 18.3, 18.8, 19.3, 20.0, 20.8, 22.1, 23.6, 27.5],
  [14.2, 15.7, 16.2, 16.6, 17.0, 17.5, 18.0, 18.5, 19.0, 19.7, 20.5, 21.8, 23.3, 27.2],
  [13.8, 15.3, 15.9, 16.3, 16.7, 17.2, 17.7, 18.2, 18.7, 19.4, 20.2, 21.5, 23.0, 27.0],
  [13.2, 14.9, 15.5, 15.9, 16.3, 16.8, 17.3, 17.8, 18.4, 19.1, 19.9, 21.2, 22.7, 26.6],
  [11.8, 13.5, 14.4, 15.0, 15.5, 16.1, 16.7, 17.3, 17.9, 18.6, 19.5, 20.9, 22.4, 26.2],
  [8.9, 10.2, 11.2, 12.2, 13.2, 14.2, 15.1, 15.9, 16.7, 17.6, 18.6, 19.8, 21.3, 25.0],
  [3.7, 4.8, 5.9, 7.0, 8.8, 10.8, 12.7, 14.3, 15.6, 16.8, 17.8, 19.2, 20.8, 24.5],
  [2.7, 3.4, 4.1, 4.6, 5.3, 6.3, 7.5, 9.4, 13.3, 15.6, 17.1, 18.8, 20.5, 24.0],
  [1.7, 2.3, 2.9, 3.4, 4.1, 5.0, 6.0, 7.0, 10.4, 14.2, 16.4, 18.1, 19.9, 23.5],
];

// ---------- CIFAR-10 linearized ----------
const CL20 = [
  [5.2, 5.9, 6.1, 6.3, 6.6, 7.2, 7.9, 8.4, 8.9, 9.6, 10.6, 11.1, 14.5, 19.5],
  [4.8, 5.4, 5.6, 5.9, 6.2, 6.8, 7.4, 7.9, 8.4, 9.1, 10.1, 10.8, 13.5, 18.0],
  [4.2, 4.7, 5.0, 5.3, 5.6, 6.1, 6.6, 7.2, 7.7, 8.4, 9.3, 10.0, 12.5, 17.5],
  [3.4, 3.9, 4.3, 4.6, 4.9, 5.4, 5.9, 6.4, 6.9, 7.5, 8.4, 9.3, 11.5, 17.0],
  [3.0, 3.5, 3.9, 4.2, 4.5, 5.0, 5.5, 6.0, 6.5, 7.0, 7.8, 8.5, 10.5, 15.0],
  [2.6, 3.0, 3.4, 3.7, 4.0, 4.4, 4.9, 5.3, 5.8, 6.3, 7.0, 7.6, 9.5, 14.0],
  [1.2, 1.3, 1.4, 1.5, 1.6, 1.9, 2.2, 2.5, 2.8, 3.1, 3.5, 3.9, 6.0, 10.5],
  [0.6, 0.7, 0.8, 0.9, 1.0, 1.2, 1.5, 1.7, 2.0, 2.3, 2.7, 3.0, 5.0, 9.0],
  [0.4, 0.5, 0.6, 0.7, 0.8, 1.0, 1.3, 1.5, 1.8, 2.1, 2.5, 2.9, 4.0, 7.0],
];
const CL50 = [
  [6.9, 7.8, 8.3, 8.7, 9.2, 9.7, 10.1, 10.7, 11.4, 12.3, 13.7, 15.2, 16.7, 20.8],
  [5.2, 5.8, 6.3, 6.8, 7.3, 7.8, 8.2, 8.7, 9.3, 10.1, 11.4, 13.2, 15.5, 20.0],
  [4.4, 5.0, 5.4, 5.8, 6.2, 6.7, 7.2, 7.7, 8.3, 9.1, 10.3, 12.3, 15.0, 19.5],
  [3.5, 4.0, 4.4, 4.7, 5.1, 5.6, 6.0, 6.5, 7.1, 7.8, 9.0, 10.8, 14.0, 19.0],
  [2.5, 2.9, 3.2, 3.5, 3.8, 4.2, 4.6, 5.1, 5.6, 6.3, 7.3, 9.0, 12.5, 18.0],
  [1.5, 1.8, 2.1, 2.3, 2.6, 3.0, 3.4, 3.8, 4.3, 5.0, 5.9, 7.3, 10.5, 17.0],
  [0.5, 0.8, 1.0, 1.2, 1.5, 1.8, 2.1, 2.5, 2.9, 3.4, 4.0, 4.6, 6.5, 14.0],
  [0.4, 0.6, 0.8, 1.0, 1.3, 1.6, 1.9, 2.3, 2.7, 3.1, 3.7, 4.3, 5.5, 11.0],
  [0.3, 0.5, 0.7, 0.9, 1.2, 1.5, 1.8, 2.2, 2.6, 3.0, 3.5, 4.0, 5.0, 8.0],
];
const CL100 = [
  [9.2, 9.9, 10.5, 11.3, 12.1, 13.0, 13.8, 14.5, 15.3, 16.1, 17.0, 18.2, 19.4, 21.5],
  [7.4, 8.0, 8.5, 9.0, 9.5, 10.1, 10.8, 11.5, 12.3, 13.2, 14.3, 15.7, 17.3, 20.5],
  [5.9, 6.6, 7.2, 7.6, 8.0, 8.6, 9.2, 9.9, 10.7, 11.6, 12.8, 14.4, 16.5, 20.0],
  [5.2, 5.9, 6.5, 6.9, 7.3, 7.9, 8.5, 9.2, 10.0, 10.9, 12.0, 13.6, 16.0, 19.5],
  [4.4, 5.1, 5.6, 6.0, 6.4, 7.0, 7.6, 8.3, 9.1, 10.0, 11.1, 12.8, 15.5, 19.0],
  [2.5, 2.9, 3.3, 3.7, 4.1, 4.6, 5.1, 5.7, 6.3, 7.0, 8.0, 9.8, 14.0, 18.5],
  [1.2, 1.5, 1.8, 2.1, 2.4, 2.8, 3.2, 3.6, 4.1, 4.7, 5.5, 6.8, 12.0, 18.0],
  [0.7, 1.0, 1.3, 1.6, 1.9, 2.3, 2.7, 3.1, 3.6, 4.1, 4.8, 5.8, 11.0, 17.0],
  [0.4, 0.7, 1.0, 1.3, 1.6, 2.0, 2.4, 2.8, 3.2, 3.7, 4.3, 5.2, 10.0, 16.0],
];
const CL150 = [
  [11.1, 12.6, 13.4, 14.0, 14.5, 15.0, 15.5, 16.1, 16.7, 17.2, 17.9, 18.9, 20.1, 22.5],
  [8.6, 9.6, 10.3, 10.8, 11.3, 11.9, 12.6, 13.3, 14.1, 14.9, 15.8, 17.0, 18.6, 21.5],
  [7.2, 7.9, 8.4, 8.8, 9.2, 9.8, 10.4, 11.1, 11.9, 12.8, 14.0, 15.8, 17.8, 21.0],
  [5.9, 6.5, 7.0, 7.4, 7.8, 8.4, 9.0, 9.7, 10.5, 11.5, 12.8, 14.8, 17.2, 20.5],
  [4.5, 5.1, 5.6, 6.0, 6.4, 7.0, 7.6, 8.3, 9.1, 10.1, 11.4, 13.5, 16.4, 20.0],
  [2.5, 3.0, 3.4, 3.8, 4.2, 4.7, 5.2, 5.8, 6.5, 7.3, 8.5, 10.5, 15.0, 19.5],
  [1.4, 1.8, 2.2, 2.5, 2.8, 3.2, 3.6, 4.1, 4.7, 5.4, 6.4, 8.2, 13.5, 19.0],
  [0.9, 1.3, 1.6, 1.9, 2.2, 2.6, 3.0, 3.5, 4.0, 4.6, 5.5, 7.0, 12.5, 18.0],
  [0.5, 0.9, 1.2, 1.5, 1.8, 2.2, 2.6, 3.0, 3.5, 4.1, 4.8, 6.0, 11.5, 15.0],
];
const CL200 = [
  [13.3, 14.3, 15.0, 15.5, 16.0, 16.4, 16.8, 17.3, 17.8, 18.4, 19.2, 20.4, 21.7, 23.6],
  [10.1, 11.5, 12.3, 13.0, 13.6, 14.3, 15.0, 15.6, 16.3, 17.0, 17.9, 19.2, 20.5, 22.2],
  [7.9, 9.0, 9.4, 9.9, 10.3, 10.8, 11.5, 12.3, 13.3, 14.3, 15.5, 17.0, 18.3, 20.0],
  [5.4, 6.0, 6.4, 6.7, 7.1, 7.4, 8.0, 9.3, 11.0, 12.3, 13.6, 15.4, 16.8, 18.7],
  [2.3, 2.7, 3.0, 3.2, 3.5, 3.8, 4.1, 4.6, 5.2, 6.3, 9.8, 14.0, 16.5, 19.0],
  [1.9, 2.3, 2.6, 2.8, 3.1, 3.4, 3.7, 4.2, 4.8, 5.7, 7.8, 12.5, 15.8, 18.5],
  [1.5, 1.9, 2.2, 2.4, 2.7, 3.0, 3.3, 3.8, 4.4, 5.2, 6.6, 11.0, 15.0, 18.0],
  [1.1, 1.5, 1.8, 2.0, 2.3, 2.6, 2.9, 3.4, 4.0, 4.7, 5.8, 9.5, 14.3, 17.5],
  [0.7, 1.1, 1.4, 1.6, 1.9, 2.2, 2.5, 3.0, 3.6, 4.2, 5.2, 8.0, 13.5, 17.0],
];
const CL300 = [
  [14.3, 15.7, 16.3, 16.6, 16.9, 17.3, 17.7, 18.2, 18.7, 19.4, 20.2, 21.4, 22.7, 26.0],
  [13.0, 15.0, 15.6, 16.0, 16.4, 16.8, 17.2, 17.7, 18.2, 18.9, 19.7, 20.9, 22.2, 25.5],
  [11.8, 14.2, 15.0, 15.4, 15.8, 16.2, 16.6, 17.1, 17.6, 18.3, 19.1, 20.3, 21.6, 25.0],
  [7.9, 9.3, 10.7, 11.7, 12.4, 13.2, 14.0, 14.9, 15.7, 16.6, 17.8, 19.3, 20.6, 23.0],
  [5.2, 5.8, 6.5, 7.3, 8.0, 9.1, 10.3, 11.7, 13.4, 15.1, 16.6, 18.3, 19.8, 22.5],
  [3.0, 3.3, 3.6, 3.9, 4.2, 4.6, 5.2, 5.9, 6.7, 8.5, 11.3, 15.3, 18.0, 21.0],
  [2.2, 2.6, 2.9, 3.2, 3.5, 3.9, 4.4, 5.0, 5.7, 6.6, 8.0, 12.5, 16.5, 20.5],
  [1.6, 2.0, 2.3, 2.6, 2.9, 3.3, 3.8, 4.4, 5.0, 5.8, 7.0, 10.0, 15.0, 20.0],
  [1.0, 1.4, 1.8, 2.1, 2.4, 2.8, 3.3, 3.8, 4.4, 5.1, 6.2, 8.5, 13.5, 19.0],
];
const CL400 = [
  [14.8, 16.2, 16.7, 17.0, 17.4, 17.9, 18.4, 19.0, 19.5, 20.2, 21.0, 22.2, 23.6, 27.0],
  [14.4, 15.9, 16.4, 16.7, 17.1, 17.6, 18.1, 18.7, 19.2, 19.9, 20.7, 21.9, 23.3, 26.8],
  [13.9, 15.5, 16.0, 16.4, 16.8, 17.3, 17.8, 18.4, 18.9, 19.6, 20.4, 21.6, 23.0, 26.5],
  [12.8, 14.6, 15.3, 15.8, 16.2, 16.7, 17.2, 17.8, 18.4, 19.1, 19.9, 21.1, 22.5, 26.0],
  [9.2, 10.8, 11.8, 12.6, 13.3, 14.1, 14.9, 15.6, 16.5, 17.2, 18.2, 19.7, 21.3, 25.0],
  [5.9, 6.8, 7.4, 8.1, 9.1, 10.5, 11.7, 12.7, 13.9, 15.5, 17.0, 18.8, 20.6, 24.5],
  [2.7, 3.1, 3.4, 3.9, 4.3, 4.9, 5.4, 5.9, 6.9, 9.9, 13.3, 16.3, 18.8, 23.0],
  [1.8, 2.3, 2.7, 3.1, 3.5, 4.0, 4.5, 5.0, 5.7, 6.8, 9.5, 14.5, 18.0, 22.5],
  [1.0, 1.6, 2.1, 2.6, 3.0, 3.5, 4.2, 4.9, 5.6, 6.4, 7.9, 11.3, 15.0, 22.0],
];
const CL500 = [
  [14.3, 16.2, 16.7, 17.2, 17.7, 18.2, 18.7, 19.2, 19.7, 20.4, 21.2, 22.4, 23.6, 27.2],
  [13.8, 15.8, 16.3, 16.8, 17.3, 17.8, 18.3, 18.8, 19.3, 20.0, 20.8, 22.0, 23.3, 27.0],
  [13.3, 15.4, 15.9, 16.4, 16.9, 17.4, 17.9, 18.4, 18.9, 19.6, 20.4, 21.6, 23.0, 26.7],
  [11.8, 14.5, 15.3, 15.8, 16.3, 16.8, 17.3, 17.8, 18.4, 19.1, 19.9, 21.1, 22.6, 26.2],
  [8.9, 10.3, 11.5, 12.3, 13.1, 13.8, 14.5, 15.3, 16.1, 16.9, 17.9, 19.2, 20.8, 24.5],
  [5.9, 6.9, 7.4, 8.4, 9.6, 11.1, 12.5, 13.8, 15.0, 16.1, 17.2, 18.7, 20.4, 24.0],
  [2.7, 3.2, 3.6, 4.2, 4.9, 5.9, 7.4, 9.2, 11.3, 13.3, 15.3, 17.2, 19.5, 23.5],
  [1.8, 2.3, 2.7, 3.2, 3.9, 4.5, 5.2, 5.9, 6.9, 8.2, 10.3, 14.3, 17.5, 22.5],
  [1.0, 1.6, 2.1, 2.7, 3.4, 4.0, 4.6, 5.1, 5.7, 6.7, 9.4, 13.8, 16.3, 21.5],
];

// ---------- wide uncertainty bands (lower / upper), same sample indices as their panel ----------
const ML20_4096_LO = [0.3, 0.3, 0.3, 0.3, 0.3, 0.3, 0.3, 0.3, 0.3, 0.28, 0.2, 0.1, -0.5, -1.0];
const ML20_4096_HI = [0.4, 0.4, 0.4, 0.4, 0.4, 0.4, 0.4, 0.42, 0.45, 0.5, 0.7, 1.5, 4.5, 8.5];
const ML50_256_LO = [0.3, 0.3, 0.35, 0.4, 0.45, 0.5, 0.55, 0.6, 0.6, 0.6, 0.7, 1.0, 2.5, 7.5];
const ML50_256_HI = [0.7, 0.8, 0.9, 1.0, 1.2, 1.4, 1.6, 1.9, 2.3, 3.5, 6.0, 8.5, 9.2, 9.8];
const ML100_256_LO = [1.8, 2.0, 2.2, 2.4, 2.6, 2.9, 3.2, 3.5, 3.8, 4.5, 7.5, 9.6, 10.6, 11.7];
const ML100_256_HI = [2.2, 2.6, 2.8, 3.0, 3.4, 3.8, 4.3, 5.3, 7.0, 8.8, 9.6, 10.6, 11.4, 12.3];
const ML100_362_LO = [0.6, 0.7, 0.8, 0.9, 1.1, 1.3, 1.5, 1.6, 1.7, 1.9, 2.5, 4.0, 5.5, 8.5];
const ML100_362_HI = [0.9, 1.0, 1.2, 1.4, 1.6, 1.9, 2.2, 2.6, 3.6, 5.5, 7.5, 8.5, 9.5, 10.8];
const ML150_362_LO = [1.3, 1.5, 1.7, 1.9, 2.2, 2.6, 3.0, 3.4, 4.5, 8.0, 8.9, 9.5, 10.0, 10.5];
const ML150_362_HI = [1.5, 1.7, 2.0, 2.3, 2.6, 3.0, 3.5, 4.3, 7.5, 9.2, 9.6, 10.1, 10.6, 11.1];
const ML150_512_LO = [0.25, 0.25, 0.25, 0.25, 0.25, 0.25, 0.25, 0.3, 0.4, 1.0, 3.0, 6.0, 8.0, 8.8];
const ML150_512_HI = [0.35, 0.35, 0.35, 0.35, 0.35, 0.35, 0.4, 0.6, 1.8, 4.8, 7.5, 8.8, 9.2, 9.6];
const CS20_256_LO = [5.4, 5.8, 6.0, 6.2, 6.4, 6.9, 7.4, 7.9, 8.4, 9.1, 11.5, 12.5, 13.5, 15.5];
const CS20_256_HI = [6.2, 6.6, 6.8, 7.0, 7.2, 7.7, 8.2, 8.7, 9.2, 9.9, 13.5, 15.5, 17.0, 21.5];
const CL20_1448_LO = [1.0, 1.2, 1.5, 1.7, 1.9, 2.3, 2.7, 3.0, 3.4, 3.8, 4.4, 5.0, 6.5, 10.0];
const CL20_1448_HI = [4.0, 4.5, 4.9, 5.2, 5.5, 6.0, 6.5, 7.0, 7.5, 8.0, 8.8, 9.5, 12.0, 17.0];
const CL50_1448_LO = [0.5, 0.8, 1.1, 1.3, 1.6, 1.9, 2.2, 2.6, 3.0, 3.5, 4.1, 4.8, 7.0, 14.0];
const CL50_1448_HI = [2.6, 3.0, 3.3, 3.6, 3.9, 4.3, 4.7, 5.2, 5.7, 6.4, 7.4, 9.0, 13.0, 19.0];
const CL100_1024_LO = [4.0, 4.5, 5.0, 5.4, 5.8, 6.3, 6.8, 7.4, 8.0, 8.8, 9.8, 11.5, 14.5, 18.5];
const CL100_1024_HI = [4.8, 5.6, 6.2, 6.6, 7.0, 7.7, 8.5, 9.4, 10.4, 11.4, 12.6, 14.2, 16.5, 19.5];
const CL150_1024_LO = [4.2, 4.7, 5.2, 5.6, 6.0, 6.5, 7.0, 7.6, 8.3, 9.2, 10.4, 12.3, 15.5, 19.5];
const CL150_1024_HI = [4.8, 5.5, 6.1, 6.5, 7.0, 7.7, 8.5, 9.4, 10.4, 11.6, 13.0, 15.0, 17.2, 20.5];

// row index, panel index, model-width index, lower, upper
const BANDS: [number, number, number, number[], number[]][] = [
  [1, 0, 8, ML20_4096_LO, ML20_4096_HI],
  [1, 1, 0, ML50_256_LO, ML50_256_HI],
  [1, 2, 0, ML100_256_LO, ML100_256_HI],
  [1, 2, 1, ML100_362_LO, ML100_362_HI],
  [1, 3, 1, ML150_362_LO, ML150_362_HI],
  [1, 3, 2, ML150_512_LO, ML150_512_HI],
  [2, 0, 0, CS20_256_LO, CS20_256_HI],
  [3, 0, 5, CL20_1448_LO, CL20_1448_HI],
  [3, 1, 5, CL50_1448_LO, CL50_1448_HI],
  [3, 2, 4, CL100_1024_LO, CL100_1024_HI],
  [3, 3, 4, CL150_1024_LO, CL150_1024_HI],
];

const ROW_DATA = [
  [MS20, MS50, MS100, MS150, MS200, MS300, MS400, MS500],
  [ML20, ML50, ML100, ML150, ML200, ML300, ML400, ML500],
  [CS20, CS50, CS100, CS150, CS200, CS300, CS400, CS500],
  [CL20, CL50, CL100, CL150, CL200, CL300, CL400, CL500],
];
const ROW_Y_TICKS = [Y_TICKS_MNIST, Y_TICKS_MNIST, Y_TICKS_CIFAR, Y_TICKS_CIFAR];
const ROW_Y_MIN = [-0.4, -1.75, -0.4, -1.5];
const ROW_Y_MAX = [17.2, 17.65, 29.6, 29.6];

// ---------- layout / style ----------
const W = 946;
const H = 763;
const ROW_TOP = [49.3, 240.7, 433.3, 625];
const ROW_H = [104, 104.3, 104, 105];
const PANEL_LEFT0 = 45;
const PANEL_STEP = 107.5;
const PANEL_W = 91;
const FONT = 'DejaVu Sans';
const AX = '#333333';
const TXT = '#222222';

function lineColor(i: number) {
  const t = i / 8;
  return `rgb(${Math.round(255 * (1 - t))},0,${Math.round(255 * t)})`;
}

function buildOption() {
  const grid: any[] = [];
  const xAxis: any[] = [];
  const yAxis: any[] = [];
  const series: any[] = [];
  const graphic: any[] = [];

  ROW_DATA.forEach((panels, r) => {
    const top = ROW_TOP[r];
    const h = ROW_H[r];
    graphic.push({
      type: 'text', x: W / 2 - 20, y: top - 36, silent: true,
      style: { text: ROW_TITLES[r], fontSize: 15, fontFamily: FONT, fill: TXT, textAlign: 'center', textVerticalAlign: 'middle', align: 'center', verticalAlign: 'middle' },
    });
    graphic.push({
      type: 'text', x: W / 2 - 19, y: top - 13.7, silent: true,
      style: { text: SUBTITLE, fontSize: 11.7, fontFamily: FONT, fill: TXT, textAlign: 'center', textVerticalAlign: 'middle', align: 'center', verticalAlign: 'middle' },
    });
    graphic.push({
      type: 'text', x: 16.7, y: top + h / 2, rotation: Math.PI / 2, silent: true,
      style: { text: Y_LABEL, fontSize: 13.3, fontFamily: FONT, fill: TXT, textAlign: 'center', textVerticalAlign: 'middle', align: 'center', verticalAlign: 'middle' },
    });
    // legend
    const lt = top + 9;
    graphic.push({
      type: 'rect', silent: true,
      shape: { x: 897, y: lt, width: 60, height: 88.5, r: 2 },
      style: { fill: 'rgba(255,255,255,0.8)', stroke: '#cccccc', lineWidth: 0.8 },
    });
    graphic.push({
      type: 'text', x: 899.5, y: top + 16, silent: true,
      style: { text: LEGEND_TITLE, fontSize: 7.5, fontFamily: FONT, fill: TXT, textAlign: 'left', textVerticalAlign: 'middle', align: 'left', verticalAlign: 'middle' },
    });
    WIDTHS.forEach((wname, i) => {
      const y = top + 25.7 + 8.3 * i;
      graphic.push({
        type: 'line', silent: true,
        shape: { x1: 906.7, y1: y, x2: 919, y2: y },
        style: { stroke: lineColor(i), lineWidth: 1.4, opacity: 0.8 },
      });
      graphic.push({
        type: 'text', x: 922.7, y, silent: true,
        style: { text: wname, fontSize: 5.8, fontFamily: FONT, fill: TXT, textAlign: 'left', textVerticalAlign: 'middle', align: 'left', verticalAlign: 'middle' },
      });
    });

    panels.forEach((curves, p) => {
      const idx = r * 8 + p;
      const N = SIZES[p];
      const left = PANEL_LEFT0 + PANEL_STEP * p;
      grid.push({ left, top, width: PANEL_W, height: h, containLabel: false });
      graphic.push({
        type: 'text', x: left + PANEL_W / 2, y: top + 6.5, silent: true,
        style: { text: String(N), fontSize: 11, fontFamily: FONT, fill: TXT, textAlign: 'center', textVerticalAlign: 'middle', align: 'center', verticalAlign: 'middle' },
      });
      xAxis.push({
        type: 'value', gridIndex: idx,
        min: -0.05 * (N - 1), max: 1.05 * (N - 1),
        axisLine: { show: true, onZero: false, lineStyle: { color: AX, width: 1.2 } },
        axisTick: { show: true, customValues: X_TICKS[p], length: 3.5, lineStyle: { color: AX, width: 1 } },
        axisLabel: { show: true, customValues: X_TICKS[p], fontSize: 9.4, color: TXT, fontFamily: FONT, margin: 4.5 },
        splitLine: { show: false },
        name: X_LABEL, nameLocation: 'middle', nameGap: 18,
        nameTextStyle: { fontSize: 9.4, color: TXT, fontFamily: FONT },
      });
      yAxis.push({
        type: 'value', gridIndex: idx,
        min: ROW_Y_MIN[r], max: ROW_Y_MAX[r],
        axisLine: { show: true, onZero: false, lineStyle: { color: AX, width: 1.2 } },
        axisTick: { show: true, customValues: ROW_Y_TICKS[r], length: 3.5, lineStyle: { color: AX, width: 1 } },
        axisLabel: { show: p === 0, customValues: ROW_Y_TICKS[r], fontSize: 9.4, color: TXT, fontFamily: FONT, margin: 5 },
        splitLine: { show: false },
      });
      const xs = XS[p];
      BANDS.filter((b) => b[0] === r && b[1] === p).forEach((b) => {
        const color = lineColor(b[2]);
        const lo = b[3];
        const hi = b[4];
        series.push({
          type: 'custom', xAxisIndex: idx, yAxisIndex: idx, silent: true, z: 0, clip: true,
          data: [[xs[0], lo[0]]],
          renderItem: (_params: any, api: any) => {
            const lower = xs.map((x, i) => api.coord([x, lo[i]]));
            const upper = xs.map((x, i) => api.coord([x, hi[i]])).reverse();
            return {
              type: 'polygon',
              shape: { points: lower.concat(upper) },
              style: { fill: color, opacity: 0.17 },
            };
          },
        });
      });
      curves.forEach((ys, w) => {
        const data = xs.map((x, i) => [x, ys[i]]);
        const color = lineColor(w);
        series.push({
          type: 'line', xAxisIndex: idx, yAxisIndex: idx, data, symbol: 'none', silent: true,
          smooth: 0.2, smoothMonotone: 'x', z: 1,
          lineStyle: { color, width: 3.2, opacity: 0.15 },
        });
        series.push({
          type: 'line', xAxisIndex: idx, yAxisIndex: idx, data, symbol: 'none', silent: true,
          smooth: 0.2, smoothMonotone: 'x', z: 2,
          lineStyle: { color, width: 1.35, opacity: 0.92 },
        });
      });
    });
  });

  return {
    animation: false,
    backgroundColor: '#ffffff',
    textStyle: { fontFamily: FONT },
    grid, xAxis, yAxis, series, graphic,
  };
}

export default function App() {
  const ref = useRef<HTMLDivElement>(null);
  useEffect(() => {
    if (!ref.current) return;
    const chart = echarts.init(ref.current, undefined, { renderer: 'svg', width: W, height: H });
    chart.setOption(buildOption() as any);
    return () => chart.dispose();
  }, []);
  return (
    <div
      ref={ref}
      style={{ position: 'absolute', left: 0, top: 0, width: W, height: H, background: '#ffffff' }}
    />
  );
}
